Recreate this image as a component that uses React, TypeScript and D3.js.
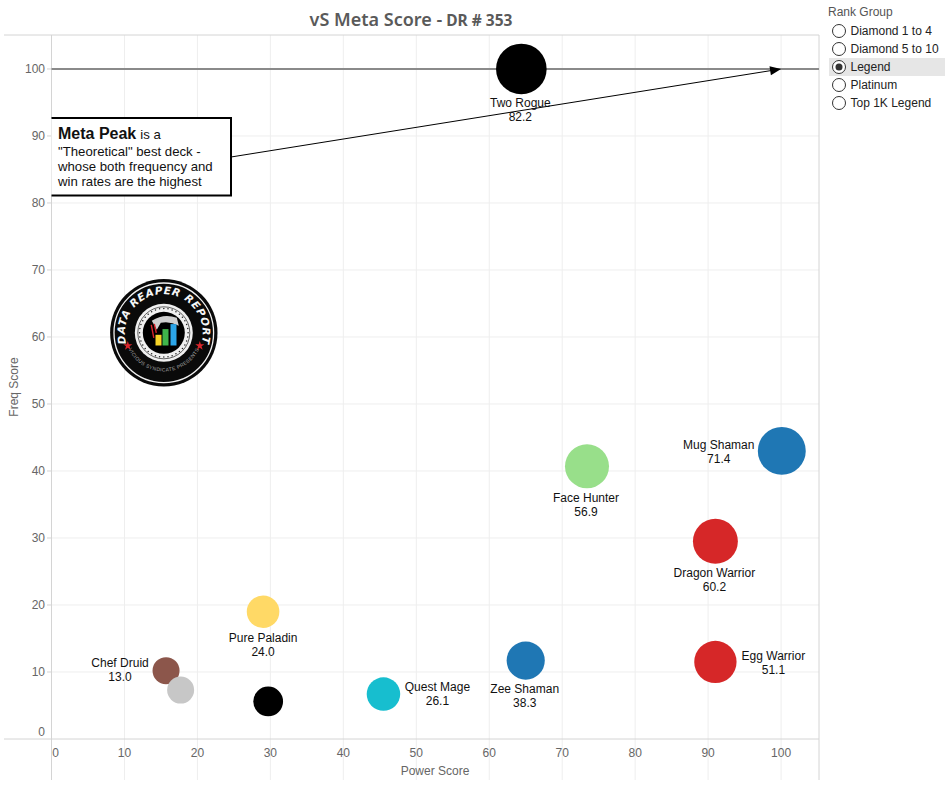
import React from "react";
import * as d3 from "d3";

const WIDTH = 945;
const HEIGHT = 788;

const decks = ["Two Rogue", "Mug Shaman", "Face Hunter", "Dragon Warrior", "Egg Warrior", "Zee Shaman", "Quest Mage", "Pure Paladin", "Chef Druid", "", ""];
const powerScores = [64.4, 100.1, 73.4, 91, 91, 65, 45.5, 29.0, 15.7, 17.7, 29.7];
const freqScores = [100, 43, 40.7, 29.5, 11.5, 11.7, 6.7, 19, 10.2, 7.3, 5.6];
const metaScores = [82.2, 71.4, 56.9, 60.2, 51.1, 38.3, 26.1, 24.0, 13.0, 13.0, 18.0];
const deckClasses = ["rogue", "shaman", "hunter", "warrior", "warrior", "shaman", "mage", "paladin", "druid", "priest", "rogue"];
const classNames = ["rogue", "shaman", "hunter", "warrior", "mage", "paladin", "druid", "priest"];
const classColors = ["#000000", "#1f77b4", "#98df8a", "#d62728", "#17becf", "#ffd966", "#8c564b", "#c7c7c7"];

const xTicks = d3.range(0, 101, 10);
const yTicks = d3.range(0, 101, 10);
const rankGroups = ["Diamond 1 to 4", "Diamond 5 to 10", "Legend", "Platinum", "Top 1K Legend"];
const selectedRank = "Legend";

const labelPlacement: Record<string, { dx: number; dy: number }> = {
  "Two Rogue": { dx: -1, dy: 38 },
  "Mug Shaman": { dx: -63, dy: -2 },
  "Face Hunter": { dx: -1, dy: 36 },
  "Dragon Warrior": { dx: -1, dy: 36 },
  "Egg Warrior": { dx: 58, dy: -2 },
  "Zee Shaman": { dx: -1, dy: 32 },
  "Quest Mage": { dx: 54, dy: -3 },
  "Pure Paladin": { dx: 0, dy: 30 },
  "Chef Druid": { dx: -46, dy: -4 },
};

const FONT = "'Liberation Sans', Arial, sans-serif";
const plot = { left: 51.5, right: 819, top: 35, bottom: 739 };

const xScale = d3.scaleLinear().domain([0, 105.2]).range([plot.left, plot.right]);
const yScale = d3.scaleLinear().domain([0, 105.07]).range([plot.bottom, plot.top]);
const rScale = d3.scaleSqrt().domain([13, 82.2]).range([13.5, 25.3]);
const colorScale = d3.scaleOrdinal<string, string>().domain(classNames).range(classColors);

function Logo({ cx, cy }: { cx: number; cy: number }) {
  const bars = [
    { x: -8.3, h: 10.7, c: "#f5d327" },
    { x: -1.3, h: 16.4, c: "#3fb54a" },
    { x: 6.7, h: 21.4, c: "#2ba5e8" },
  ];
  const bites = d3.range(0, 360, 10);
  return (
    <g transform={`translate(${cx},${cy})`}>
      <defs>
        <path id="logo-top-arc" d="M -37.5 11 A 39 39 0 1 1 37.5 11" />
        <path id="logo-bottom-arc" d="M -37 12 A 39 39 0 0 0 37 12" />
      </defs>
      <circle r={53.7} fill="#0a0a0a" />
      <circle r={49.8} fill="none" stroke="#f2f2f2" strokeWidth={1.3} />
      <text fontFamily="'DejaVu Sans', sans-serif" fontWeight={700} fontStyle="italic" fontSize={10.5} fill="#f6f6f6" letterSpacing={0.7}>
        <textPath href="#logo-top-arc" startOffset="50%" textAnchor="middle">DATA REAPER REPORT</textPath>
      </text>
      <text fontFamily={FONT} fontSize={5} fill="#a8a8a8" letterSpacing={0.35}>
        <textPath href="#logo-bottom-arc" startOffset="50%" textAnchor="middle">VICIOUS SYNDICATE PRESENTS</textPath>
      </text>
      <path d={d3.symbol(d3.symbolStar, 26)() as string} transform="translate(-36,13)" fill="#d8262c" />
      <path d={d3.symbol(d3.symbolStar, 26)() as string} transform="translate(36,13)" fill="#d8262c" />
      <circle r={29} fill="#f0f0f0" />
      <circle r={26} fill="none" stroke="#222" strokeWidth={0.7} />
      {bites.map((a) => (
        <circle key={a} cx={24.3 * Math.cos((a * Math.PI) / 180)} cy={24.3 * Math.sin((a * Math.PI) / 180)} r={0.75} fill="#222" />
      ))}
      <circle r={21} fill="#000" />
      <path d="M -12 -12 Q 0 -20 13 -15 L 15 -7 Q 6 -12 -3 -10 L -7 -3 Z" fill="#cfcfcf" />
      <path d="M -12.5 -8 L -10 5 M -9.5 -9 L -7.5 0" stroke="#d8262c" strokeWidth={1.4} fill="none" />
      {bars.map((b) => (
        <rect key={b.x} x={b.x} y={12.7 - b.h} width={6} height={b.h} fill={b.c} />
      ))}
    </g>
  );
}

export default function App() {
  const peakY = yScale(100);
  const peakX = xScale(100);
  const calloutStart: [number, number] = [231, 157];
  const angle = Math.atan2(peakY - calloutStart[1], peakX - calloutStart[0]);
  const head = d3.line()([
    [peakX, peakY],
    [peakX - 11 * Math.cos(angle) + 4.5 * Math.sin(angle), peakY - 11 * Math.sin(angle) - 4.5 * Math.cos(angle)],
    [peakX - 11 * Math.cos(angle) - 4.5 * Math.sin(angle), peakY - 11 * Math.sin(angle) + 4.5 * Math.cos(angle)],
  ]) + "Z";

  return (
    <svg width={WIDTH} height={HEIGHT} viewBox={`0 0 ${WIDTH} ${HEIGHT}`} style={{ position: "absolute", left: 0, top: 0, background: "#fff" }}>
      <text x={411} y={26} textAnchor="middle" fontFamily="'Noto Sans', sans-serif" fontWeight={600} fill="#5a5a5a" fontSize={18}>
        vS Meta Score -<tspan fontSize={15.5} fontWeight={700}> DR # 353</tspan>
      </text>

      {/* gridlines */}
      {xTicks.slice(1).map((t) => (
        <line key={t} x1={xScale(t)} x2={xScale(t)} y1={plot.top} y2={780} stroke="#eeeeee" strokeWidth={1} />
      ))}
      {yTicks.slice(1).map((t) => (
        <line key={t} x1={plot.left} x2={plot.right} y1={yScale(t)} y2={yScale(t)} stroke="#eeeeee" strokeWidth={1} />
      ))}
      {yTicks.slice(1).map((t) => (
        <line key={t} x1={47} x2={plot.left} y1={yScale(t)} y2={yScale(t)} stroke="#d4d4d4" strokeWidth={1} />
      ))}

      {/* frame */}
      <line x1={4} x2={plot.right} y1={plot.top} y2={plot.top} stroke="#d4d4d4" />
      <line x1={4} x2={plot.right} y1={plot.bottom} y2={plot.bottom} stroke="#d4d4d4" />
      <line x1={plot.left} x2={plot.left} y1={plot.top} y2={780} stroke="#d4d4d4" />
      <line x1={plot.right} x2={plot.right} y1={plot.top} y2={780} stroke="#d4d4d4" />

      {/* tick labels */}
      {yTicks.map((t) => (
        <text key={t} x={45} y={t === 0 ? 736 : yScale(t) + 4} textAnchor="end" fontFamily={FONT} fontSize={12} fill="#666">{t}</text>
      ))}
      {xTicks.map((t) => (
        <text key={t} x={t === 0 ? 55.5 : xScale(t)} y={757} textAnchor="middle" fontFamily={FONT} fontSize={12} fill="#666">{t}</text>
      ))}
      <text x={435} y={775} textAnchor="middle" fontFamily={FONT} fontSize={12} fill="#666">Power Score</text>
      <text transform="translate(18,387) rotate(-90)" textAnchor="middle" fontFamily={FONT} fontSize={12} fill="#666">Freq Score</text>

      {/* meta peak line */}
      <line x1={plot.left} x2={plot.right} y1={peakY} y2={peakY} stroke="#8a8a8a" strokeWidth={2} />

      <Logo cx={163.8} cy={332.8} />

      {/* marks */}
      {decks.map((d, i) => (
        <circle key={i} cx={xScale(powerScores[i])} cy={yScale(freqScores[i])} r={rScale(metaScores[i])} fill={colorScale(deckClasses[i])} />
      ))}

      {/* labels */}
      {decks.map((d, i) => {
        if (!d) return null;
        const p = labelPlacement[d];
        const x = xScale(powerScores[i]) + p.dx;
        const y = yScale(freqScores[i]) + p.dy;
        return (
          <text key={d} textAnchor="middle" fontFamily={FONT} fontSize={12} fill="#111">
            <tspan x={x} y={y}>{d}</tspan>
            <tspan x={x} y={y + 14}>{metaScores[i].toFixed(1)}</tspan>
          </text>
        );
      })}

      {/* annotation */}
      <line x1={calloutStart[0]} y1={calloutStart[1]} x2={peakX - 8 * Math.cos(angle)} y2={peakY - 8 * Math.sin(angle)} stroke="#000" strokeWidth={1} />
      <path d={head} fill="#000" />
      <rect x={plot.left} y={118} width={179} height={77.5} fill="#fff" />
      <path d={`M ${plot.left} 118 H 231 V 195.5 H ${plot.left}`} fill="none" stroke="#000" strokeWidth={2} />
      <text fontFamily={FONT} fontSize={13.2} fill="#111">
        <tspan x={58} y={139} fontSize={16} fontWeight={700}>Meta Peak</tspan>
        <tspan dx={4}>is a</tspan>
        <tspan x={58} y={156}>"Theoretical" best deck -</tspan>
        <tspan x={58} y={171}>whose both frequency and</tspan>
        <tspan x={58} y={186}>win rates are the highest</tspan>
      </text>

      {/* rank group filter */}
      <text x={828} y={16} fontFamily={FONT} fontSize={12} fill="#555">Rank Group</text>
      {rankGroups.map((g, i) => {
        const y = 31 + i * 18;
        const on = g === selectedRank;
        return (
          <g key={g}>
            {on && <rect x={829} y={y - 9} width={116} height={18} fill="#e6e6e6" />}
            <circle cx={839} cy={y} r={6.5} fill="#fff" stroke="#333" strokeWidth={1} />
            {on && <circle cx={839} cy={y} r={3.5} fill="#333" />}
            <text x={850.5} y={y + 4} fontFamily={FONT} fontSize={12} fill="#222">{g}</text>
          </g>
        );
      })}
    </svg>
  );
}
